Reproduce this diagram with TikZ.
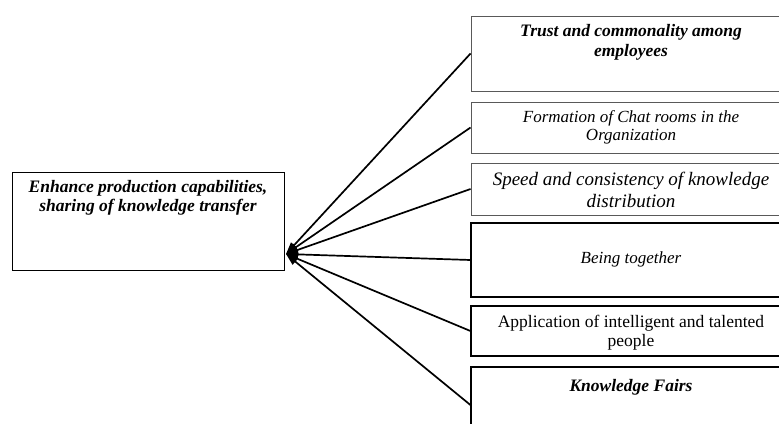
\documentclass[tikz,border=0pt]{standalone}
\usepackage{fontspec}
\setmainfont{Liberation Serif}
\usetikzlibrary{positioning}
\usetikzlibrary{arrows.meta}

\begin{document}
\begin{tikzpicture}[%
    x=1pt, y=-1pt,
    node distance=9pt,
    goalnode/.style={rectangle, draw=black, line width=1pt, minimum width=272pt, minimum height=98pt, inner sep=0pt},
    factornode/.style={rectangle, draw=black, line width=1.1pt, minimum width=320pt, inner sep=0pt},
    lightnode/.style={factornode, draw=black!65, line width=0.9pt},
    txt/.style={align=center, inner sep=0pt},
    link/.style={line width=1.7pt, -{Triangle[length=12pt, width=8pt]}}
]

\useasboundingbox (0,0) rectangle (779,423);
\clip (0,0) rectangle (779,423);

% goal node
\node[goalnode]      (goal) at (148,221) {};
\node[txt, font=\bfseries\itshape\fontsize{17.5}{18.5}\selectfont] (goaltext) [below=9pt of goal.north] {Enhance production capabilities,\\ sharing of knowledge transfer};

\coordinate (hub) at (286,254);

% factor nodes
\node[lightnode, minimum height=75pt]      (trust) at (631,53.5) {};
\node[lightnode, minimum height=51pt]      (chatrooms) at (631,127.5) {};
\node[lightnode, minimum height=52pt]      (speed) at (631,189) {};
\node[factornode, minimum height=74pt]     (together) at (631,260) {};
\node[factornode, minimum height=50pt]     (talent) at (631,331) {};
\node[factornode, minimum height=76pt]     (fairs) at (631,405) {};

% factor texts
\node[txt, font=\bfseries\itshape\fontsize{17.5}{20}\selectfont] (trusttext) [below=9pt of trust.north] {Trust and commonality among\\ employees};
\node[txt, font=\itshape\fontsize{17}{17.5}\selectfont] (chatroomstext) [below=9pt of chatrooms.north] {Formation of Chat rooms in the\\ Organization};
\node[txt, font=\itshape\fontsize{19}{22}\selectfont] (speedtext) [below=9pt of speed.north] {Speed and consistency of knowledge\\ distribution};
\node[txt, font=\itshape\fontsize{17}{19}\selectfont] (togethertext) at ([yshift=1pt]together.center) {Being together};
\node[txt, font=\fontsize{17.5}{19}\selectfont] (talenttext) [below=10pt of talent.north] {Application of intelligent and talented\\ people};
\node[txt, font=\bfseries\itshape\fontsize{17.5}{19}\selectfont] (fairstext) [below=13pt of fairs.north] {Knowledge Fairs};

% Lines
\draw[link] (trust.west) -- (hub);
\draw[link] (chatrooms.west) -- (hub);
\draw[link] (speed.west) -- (hub);
\draw[link] (together.west) -- (hub);
\draw[link] (talent.west) -- (hub);
\draw[link] (fairs.west) -- (hub);

\end{tikzpicture}
\end{document}
